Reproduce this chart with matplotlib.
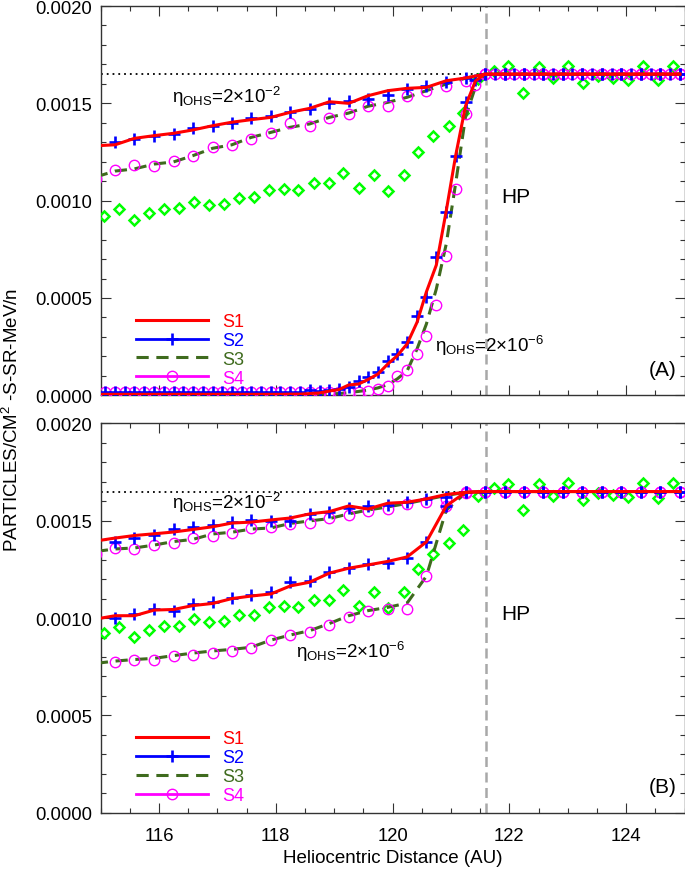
import numpy as np
import matplotlib
matplotlib.use('Agg')
import matplotlib.pyplot as plt
from matplotlib.lines import Line2D
from matplotlib.ticker import MultipleLocator, FormatStrFormatter

plt.rcParams['font.family'] = ['Liberation Sans', 'DejaVu Sans']
plt.rcParams['mathtext.fontset'] = 'custom'
plt.rcParams['mathtext.rm'] = 'Liberation Sans'
plt.rcParams['mathtext.it'] = 'Liberation Sans:italic'

# ---------------- data ----------------
# coarse grid (0.33 AU) used by panel A upper group and both groups in panel B
x_coarse = [114.92, 115.25, 115.58, 115.92, 116.25, 116.58, 116.92, 117.25, 117.58, 117.92,
            118.25, 118.58, 118.92, 119.25, 119.58, 119.92, 120.25, 120.58, 120.92, 121.25,
            121.58, 121.92, 122.25, 122.58, 122.92, 123.25, 123.58, 123.92, 124.25, 124.58, 124.92]
# fine grid (0.17 AU) used by panel A lower group
x_fine = [114.92, 115.08, 115.25, 115.42, 115.58, 115.75, 115.92, 116.08, 116.25, 116.42, 116.58,
          116.75, 116.92, 117.08, 117.25, 117.42, 117.58, 117.75, 117.92, 118.08, 118.25,
          118.42, 118.58, 118.75, 118.92, 119.08, 119.25, 119.42, 119.58, 119.75, 119.92,
          120.08, 120.25, 120.42, 120.58, 120.75, 120.92, 121.08, 121.25, 121.42, 121.58,
          121.75, 121.92, 122.08, 122.25, 122.42, 122.58, 122.75, 122.92, 123.08, 123.25,
          123.42, 123.58, 123.75, 123.92, 124.08, 124.25, 124.42, 124.58, 124.75, 124.92]

# Panel A, eta = 2e-2
A_up_S1 = [0.001282, 0.001287, 0.001320, 0.001334, 0.001346, 0.001363, 0.001385, 0.001403, 0.001416, 0.001428,
           0.001454, 0.001474, 0.001508, 0.001500, 0.001539, 0.001565, 0.001577, 0.001582, 0.001616, 0.001630,
           0.00165, 0.00165, 0.00165, 0.00165, 0.00165, 0.00165, 0.00165, 0.00165, 0.00165, 0.00165, 0.00165]
A_up_S2 = [np.nan, 0.001303, 0.001317, 0.001334, 0.001342, 0.001372, 0.001385, 0.001399, 0.001425, 0.001433,
           0.001457, 0.001471, 0.001502, 0.001510, 0.001522, 0.001544, 0.001574, 0.001591, 0.001608, 0.001630,
           0.00165, 0.00165, 0.00165, 0.00165, 0.00165, 0.00165, 0.00165, 0.00165, 0.00165, 0.00165, 0.00165]
A_up_S3 = [0.001122, 0.001152, 0.001163, 0.001188, 0.001199, 0.001231, 0.001269, 0.001287, 0.001325, 0.001351,
           0.001377, 0.001394, 0.001428, 0.001450, 0.001485, 0.001505, 0.001531, 0.001565, 0.001599, 0.001629,
           0.00165, 0.00165, 0.00165, 0.00165, 0.00165, 0.00165, 0.00165, 0.00165, 0.00165, 0.00165, 0.00165]
A_up_S4 = [0.001111, 0.001155, 0.001182, 0.001180, 0.001205, 0.001229, 0.001274, 0.001287, 0.001318, 0.001349,
           0.001400, 0.001385, 0.001426, 0.001443, 0.001488, 0.001488, 0.001536, 0.001565, 0.001587, 0.001616,
           0.00165, 0.00165, 0.00165, 0.00165, 0.00165, 0.00165, 0.00165, 0.00165, 0.00165, 0.00165, 0.00165]

# Panel A, eta = 2e-6 (fine grid)
A_lo_S1 = [0.000005, 0.000005, 0.000005, 0.000005, 0.000005, 0.000005, 0.000005, 0.000005, 0.000005, 0.000005,
           0.000005, 0.000005, 0.000005, 0.000005, 0.000005, 0.000005, 0.000005, 0.000005, 0.000005, 0.000005,
           0.000006, 0.000006, 0.000009, 0.000012, 0.000022, 0.000029, 0.000053, 0.000058, 0.000081, 0.000109,
           0.000161, 0.000203, 0.000264, 0.000375, 0.000531, 0.000669, 0.000947, 0.001229, 0.001486, 0.001615,
           0.00165, 0.00165, 0.00165, 0.00165, 0.00165, 0.00165, 0.00165, 0.00165, 0.00165, 0.00165,
           0.00165, 0.00165, 0.00165, 0.00165, 0.00165, 0.00165, 0.00165, 0.00165, 0.00165, 0.00165, 0.00165]
A_lo_S2 = [np.nan, 0.000015, 0.000015, 0.000015, 0.000015, 0.000015, 0.000015, 0.000015, 0.000015, 0.000015,
           0.000015, 0.000015, 0.000015, 0.000015, 0.000015, 0.000015, 0.000015, 0.000015, 0.000015, 0.000016,
           0.000016, 0.000018, 0.000029, 0.000024, 0.000029, 0.000032, 0.000041, 0.000075, 0.000092, 0.000118,
           0.000174, 0.000214, 0.000272, 0.000405, 0.000503, 0.000709, 0.000940, 0.001228, 0.001508, 0.001621,
           0.00165, 0.00165, 0.00165, 0.00165, 0.00165, 0.00165, 0.00165, 0.00165, 0.00165, 0.00165,
           0.00165, 0.00165, 0.00165, 0.00165, 0.00165, 0.00165, 0.00165, 0.00165, 0.00165, 0.00165, 0.00165]
A_lo_S3 = [0.000003, 0.000003, 0.000003, 0.000003, 0.000003, 0.000003, 0.000003, 0.000003, 0.000003, 0.000003,
           0.000003, 0.000003, 0.000003, 0.000003, 0.000003, 0.000003, 0.000003, 0.000003, 0.000003, 0.000003,
           0.000003, 0.000003, 0.000003, 0.000004, 0.000007, 0.000009, 0.000014, 0.000020, 0.000027, 0.000038,
           0.000055, 0.000084, 0.000125, 0.000238, 0.000366, 0.000546, 0.000777, 0.001086, 0.001430, 0.001584,
           0.00165, 0.00165, 0.00165, 0.00165, 0.00165, 0.00165, 0.00165, 0.00165, 0.00165, 0.00165,
           0.00165, 0.00165, 0.00165, 0.00165, 0.00165, 0.00165, 0.00165, 0.00165, 0.00165, 0.00165, 0.00165]
A_lo_S4 = [np.nan, 0.000015, 0.000015, 0.000015, 0.000015, 0.000015, 0.000015, 0.000015, 0.000015, 0.000015,
           0.000015, 0.000015, 0.000015, 0.000015, 0.000015, 0.000015, 0.000015, 0.000015, 0.000015, 0.000015,
           0.000015, 0.000015, 0.000015, 0.000015, 0.000015, 0.000015, 0.000015, 0.000018, 0.000024, 0.000032,
           0.000049, 0.000098, 0.000128, 0.000212, 0.000306, 0.000462, 0.000717, 0.001060, 0.001445, 0.001594,
           0.00165, 0.00165, 0.00165, 0.00165, 0.00165, 0.00165, 0.00165, 0.00165, 0.00165, 0.00165,
           0.00165, 0.00165, 0.00165, 0.00165, 0.00165, 0.00165, 0.00165, 0.00165, 0.00165, 0.00165, 0.00165]

# Panel B, eta = 2e-2
B_up_S1 = [0.001396, 0.001411, 0.001424, 0.001433, 0.001442, 0.001455, 0.001469, 0.001488, 0.001493, 0.001504,
           0.001514, 0.001535, 0.001547, 0.001576, 0.001560, 0.001590, 0.001595, 0.001612, 0.001635, 0.001646,
           0.00165, 0.00165, 0.00165, 0.00165, 0.00165, 0.00165, 0.00165, 0.00165, 0.00165, 0.00165, 0.00165]
B_up_S2 = [np.nan, 0.001391, 0.001411, 0.001427, 0.001459, 0.001470, 0.001477, 0.001496, 0.001504, 0.001501,
           0.001499, 0.001532, 0.001547, 0.001565, 0.001578, 0.001581, 0.001596, 0.001612, 0.001623, 0.00165,
           0.00165, 0.00165, 0.00165, 0.00165, 0.00165, 0.00165, 0.00165, 0.00165, 0.00165, 0.00165, 0.00165]
B_up_S3 = [0.001342, 0.001355, 0.001360, 0.001375, 0.001393, 0.001404, 0.001432, 0.001441, 0.001457, 0.001463,
           0.001486, 0.001499, 0.001511, 0.001535, 0.001555, 0.001571, 0.001589, 0.001609, 0.001630, 0.001646,
           0.00165, 0.00165, 0.00165, 0.00165, 0.00165, 0.00165, 0.00165, 0.00165, 0.00165, 0.00165, 0.00165]
B_up_S4 = [0.001329, 0.001360, 0.001355, 0.001373, 0.001387, 0.001410, 0.001420, 0.001437, 0.001461, 0.001466,
           0.001481, 0.001488, 0.001515, 0.001527, 0.001552, 0.001560, 0.001586, 0.001596, 0.001612, 0.001645,
           0.00165, 0.00165, 0.00165, 0.00165, 0.00165, 0.00165, 0.00165, 0.00165, 0.00165, 0.00165, 0.00165]

# Panel B, eta = 2e-6
B_lo_S1 = [0.000995, 0.001012, 0.001012, 0.001041, 0.001044, 0.001064, 0.001075, 0.001100, 0.001113, 0.001124,
           0.001165, 0.001184, 0.001231, 0.001256, 0.001273, 0.001291, 0.001314, 0.001391, 0.001576, 0.001646,
           0.00165, 0.00165, 0.00165, 0.00165, 0.00165, 0.00165, 0.00165, 0.00165, 0.00165, 0.00165, 0.00165]
B_lo_S2 = [np.nan, 0.001000, 0.001021, 0.001044, 0.001034, 0.001072, 0.001081, 0.001103, 0.001116, 0.001136,
           0.001183, 0.001192, 0.001237, 0.001255, 0.001276, 0.001285, 0.001309, 0.001391, 0.001576, 0.00165,
           0.00165, 0.00165, 0.00165, 0.00165, 0.00165, 0.00165, 0.00165, 0.00165, 0.00165, 0.00165, 0.00165]
B_lo_S3 = [0.000767, 0.000779, 0.000787, 0.000793, 0.000807, 0.000820, 0.000831, 0.000839, 0.000850, 0.000887,
           0.000913, 0.000935, 0.000972, 0.001012, 0.001038, 0.001055, 0.001077, 0.001215, 0.001555, 0.001642,
           0.00165, 0.00165, 0.00165, 0.00165, 0.00165, 0.00165, 0.00165, 0.00165, 0.00165, 0.00165, 0.00165]
B_lo_S4 = [np.nan, 0.000776, 0.000782, 0.000787, 0.000804, 0.000810, 0.000823, 0.000831, 0.000847, 0.000887,
           0.000914, 0.000927, 0.000964, 0.001004, 0.001035, 0.001049, 0.001045, 0.001214, 0.001577, 0.00165,
           0.00165, 0.00165, 0.00165, 0.00165, 0.00165, 0.00165, 0.00165, 0.00165, 0.00165, 0.00165, 0.00165]

# observations (green diamonds), same in both panels
obs_x = [115.06, 115.32, 115.57, 115.83, 116.09, 116.34, 116.60, 116.85, 117.11, 117.37,
         117.62, 117.88, 118.14, 118.39, 118.65, 118.91, 119.16, 119.42, 119.68, 119.93,
         120.19, 120.44, 120.70, 120.96, 121.21, 121.47, 121.73, 121.98, 122.24, 122.50,
         122.75, 123.01, 123.26, 123.52, 123.78, 124.03, 124.29, 124.55, 124.80]
obs_y = [0.000921, 0.000956, 0.000901, 0.000937, 0.000957, 0.000961, 0.000995, 0.000978, 0.000983, 0.001014,
         0.001017, 0.001055, 0.001060, 0.001055, 0.001091, 0.001093, 0.001142, 0.001063, 0.001133, 0.001051,
         0.001133, 0.001250, 0.001330, 0.001385, 0.001452, 0.001625, 0.001668, 0.001691, 0.001555, 0.001689,
         0.001629, 0.001693, 0.001606, 0.001642, 0.001631, 0.001620, 0.001693, 0.001618, 0.001693]

gcr_level = 0.00165
hp_x = 121.6
series_names = ['S1', 'S2', 'S3', 'S4']

# ---------------- style ----------------
RED = '#ff0000'
BLUE = '#0000ff'
GREEN = '#3f6b1e'
MAG = '#ff00ff'
LIME = '#00ff00'
DASH = (0, (4, 2.5))

W, H = 685, 870
fig = plt.figure(figsize=(W / 100, H / 100), dpi=100)
axA = fig.add_axes([100.5 / W, 1 - 396.3 / H, 584 / W, 389.3 / H])
axB = fig.add_axes([100.5 / W, 1 - 813.7 / H, 584 / W, 389.3 / H])


def draw_group(ax, x_line, s1, s2, s3, s4):
    ax.plot(x_line, s3, color=GREEN, lw=2.2, ls=DASH, zorder=4)
    ax.plot(x_line, s4, ls='none', marker='o', ms=7.5, mfc='none', mec=MAG, mew=1.0, zorder=5)
    ax.plot(x_line, s2, ls='none', marker='+', ms=9, mec=BLUE, mew=1.9, zorder=6)
    ax.plot(x_line, s1, color=RED, lw=2.2, zorder=7)


def setup(ax, label_bottom):
    ax.set_xlim(115, 125)
    ax.set_ylim(0, 0.002)
    ax.xaxis.set_major_locator(MultipleLocator(2))
    ax.xaxis.set_minor_locator(MultipleLocator(0.5))
    ax.yaxis.set_major_locator(MultipleLocator(0.0005))
    ax.yaxis.set_minor_locator(MultipleLocator(0.0001))
    ax.yaxis.set_major_formatter(FormatStrFormatter('%.4f'))
    ax.tick_params(which='both', direction='in', top=True, right=True, width=0.8, colors='#333333',
                   labelcolor='black', labelsize=13.3)
    ax.tick_params(which='major', length=7)
    ax.tick_params(which='minor', length=3.6)
    ax.tick_params(axis='y', pad=6)
    ax.tick_params(axis='x', pad=10, labelbottom=label_bottom)
    for s in ax.spines.values():
        s.set_linewidth(1.0)
        s.set_color('#333333')
    labs = ax.get_yticklabels()
    labs[0].set_va('bottom')
    labs[-1].set_va('top')


for ax in (axA, axB):
    ax.axhline(gcr_level, color='black', lw=1.3, ls=(0, (1, 2.2)), zorder=1)
    ax.axvline(hp_x, color='#a8a8a8', lw=1.8, ls=(0, (4, 2.2)), zorder=2)
    ax.plot(obs_x, obs_y, ls='none', marker='D', ms=5.4, mfc='none', mec=LIME, mew=1.8, zorder=3)

draw_group(axA, x_coarse, A_up_S1, A_up_S2, A_up_S3, A_up_S4)
draw_group(axA, x_fine, A_lo_S1, A_lo_S2, A_lo_S3, A_lo_S4)
draw_group(axB, x_coarse, B_up_S1, B_up_S2, B_up_S3, B_up_S4)
draw_group(axB, x_coarse, B_lo_S1, B_lo_S2, B_lo_S3, B_lo_S4)

setup(axA, False)
setup(axB, True)

eta2 = r'$\mathrm{\eta}_{\mathrm{OHS}}$=2$\times$10$^{-2}$'
eta6 = r'$\mathrm{\eta}_{\mathrm{OHS}}$=2$\times$10$^{-6}$'
axA.text(116.22, 0.001538, eta2, fontsize=13.5, va='center', ha='left')
axA.text(120.73, 0.000258, eta6, fontsize=13.5, va='center', ha='left')
axB.text(116.22, 0.001595, eta2, fontsize=13.5, va='center', ha='left')
axB.text(118.35, 0.000832, eta6, fontsize=13.5, va='center', ha='left')
for ax in (axA, axB):
    ax.text(121.86, 0.001022, 'HP', fontsize=15, va='center', ha='left')
axA.text(124.63, 0.000135, '(A)', fontsize=15, va='center', ha='center')
axB.text(124.63, 0.000137, '(B)', fontsize=15, va='center', ha='center')

for ax in (axA, axB):
    handles = [Line2D([], [], color=RED, lw=2.2),
               Line2D([], [], color=BLUE, lw=2.0, marker='+', ms=9, mew=1.9),
               Line2D([], [], color=GREEN, lw=2.2, ls=DASH),
               Line2D([], [], color=MAG, lw=2.0, marker='o', ms=7.5, mfc='none', mew=1.0)]
    ax.legend(handles, series_names, loc='upper left', bbox_to_anchor=(0.0607, 0.2115),
              frameon=False, handlelength=4.0, handletextpad=0.8, labelspacing=0.105,
              borderpad=0, borderaxespad=0, fontsize=13, numpoints=1,
              labelcolor=[RED, BLUE, GREEN, MAG])

fig.text(392.7 / W, 1 - 859 / H, 'Heliocentric Distance (AU)', fontsize=13.5, ha='center', va='center')
fig.text(12 / W, 1 - 420 / H, 'PARTICLES/CM$^2$ -S-SR-MeV/n', fontsize=13.5, rotation=90,
         ha='center', va='center')

fig.savefig('out.png', dpi=100)
